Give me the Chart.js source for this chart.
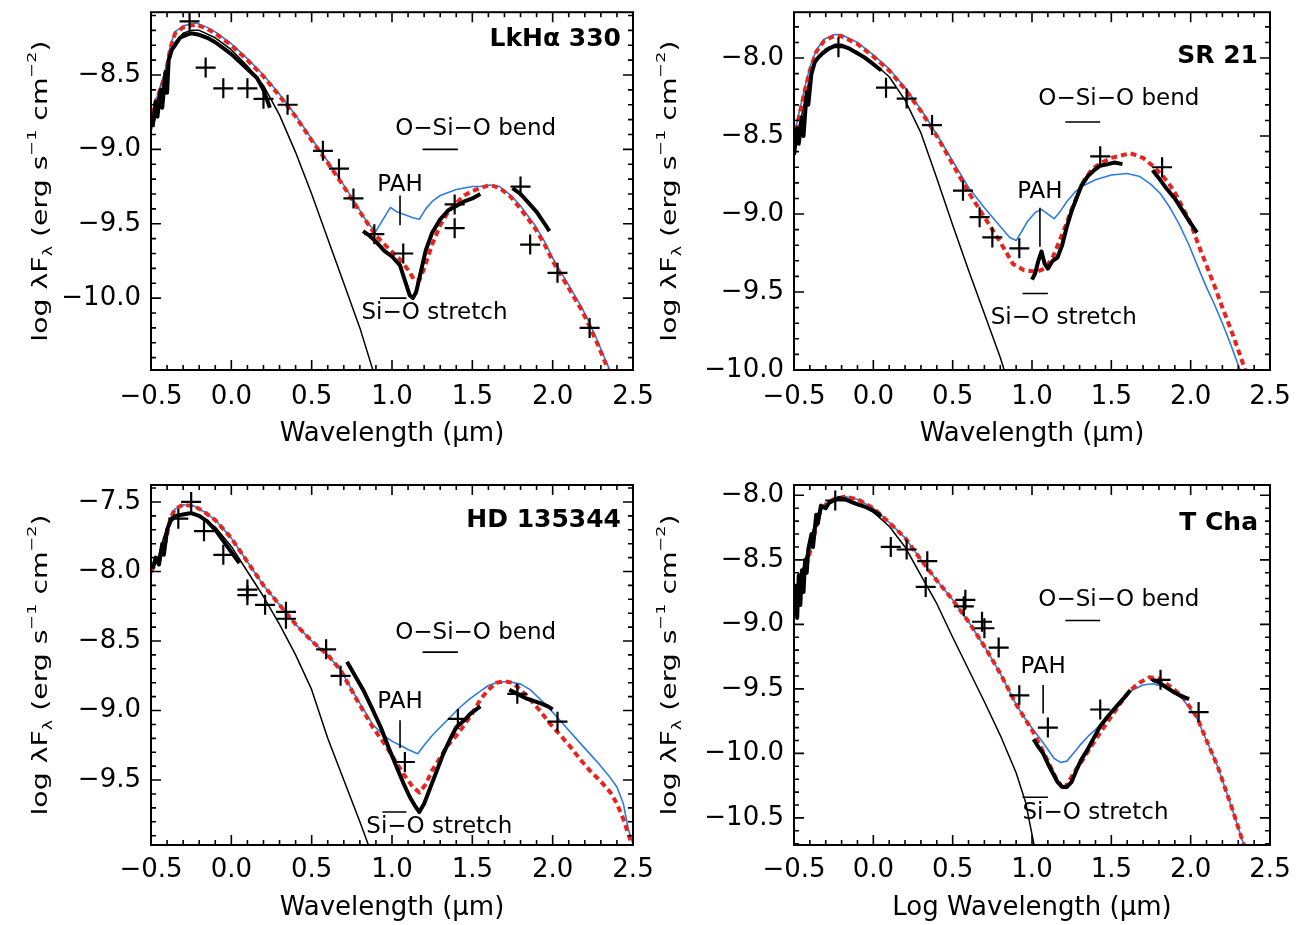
<!DOCTYPE html>
<html>
<head>
<meta charset="utf-8">
<script src="https://cdn.jsdelivr.net/npm/chart.js@4.4.1/dist/chart.umd.min.js"></script>
<style>
  body { margin: 0; background: #fff; width: 1300px; height: 925px; position: relative; overflow: hidden; }
  canvas { position: absolute; }
</style>
</head>
<body>
<canvas id="lkha" width="700" height="462" style="left:0;top:0"></canvas>
<canvas id="sr21" width="650" height="462" style="left:650px;top:0"></canvas>
<canvas id="hd" width="700" height="463" style="left:0;top:462px"></canvas>
<canvas id="tcha" width="650" height="463" style="left:650px;top:462px"></canvas>
<script>
// shared x axis (log wavelength)
const xTickValues = [-0.5, 0, 0.5, 1, 1.5, 2, 2.5];

// ---- LkHa 330 ----
const lkhaYTicks = [-8.5, -9, -9.5, -10];
const lkhaStar = [[-0.5,-8.88],[-0.45,-8.62],[-0.4,-8.42],[-0.35,-8.28],[-0.3,-8.22],[-0.25,-8.2],[-0.2,-8.2],[-0.1,-8.25],[0,-8.33],[0.1,-8.44],[0.2,-8.57],[0.3,-8.77],[0.4,-9.02],[0.5,-9.3],[0.6,-9.6],[0.7,-9.9],[0.8,-10.2],[0.9,-10.55]];
const lkhaModelBlue = [[-0.5,-8.78],[-0.45,-8.6],[-0.41,-8.48],[-0.38,-8.3],[-0.35,-8.21],[-0.3,-8.17],[-0.22,-8.15],[-0.15,-8.18],[-0.1,-8.21],[0,-8.29],[0.1,-8.39],[0.2,-8.5],[0.3,-8.63],[0.4,-8.77],[0.5,-8.93],[0.6,-9.08],[0.7,-9.24],[0.8,-9.41],[0.85,-9.5],[0.9,-9.55],[0.95,-9.46],[0.99,-9.39],[1.03,-9.42],[1.08,-9.44],[1.13,-9.46],[1.17,-9.47],[1.21,-9.4],[1.25,-9.35],[1.3,-9.31],[1.35,-9.29],[1.4,-9.27],[1.45,-9.26],[1.5,-9.25],[1.55,-9.25],[1.61,-9.24],[1.67,-9.25],[1.74,-9.31],[1.8,-9.38],[1.89,-9.51],[1.95,-9.62],[2,-9.73],[2.06,-9.84],[2.12,-9.95],[2.18,-10.06],[2.23,-10.17],[2.28,-10.29],[2.33,-10.42],[2.37,-10.52]];
const lkhaModelRed = [[-0.5,-8.76],[-0.45,-8.62],[-0.41,-8.5],[-0.38,-8.32],[-0.35,-8.22],[-0.3,-8.18],[-0.22,-8.16],[-0.15,-8.19],[-0.1,-8.22],[0,-8.3],[0.1,-8.4],[0.2,-8.51],[0.3,-8.64],[0.4,-8.78],[0.5,-8.94],[0.6,-9.09],[0.7,-9.25],[0.8,-9.42],[0.9,-9.58],[1,-9.69],[1.05,-9.74],[1.1,-9.81],[1.14,-9.88],[1.17,-9.88],[1.2,-9.8],[1.25,-9.64],[1.3,-9.51],[1.35,-9.42],[1.4,-9.36],[1.45,-9.31],[1.5,-9.28],[1.55,-9.26],[1.61,-9.24],[1.67,-9.26],[1.74,-9.32],[1.8,-9.4],[1.89,-9.53],[1.95,-9.64],[2,-9.75],[2.06,-9.86],[2.12,-9.97],[2.18,-10.08],[2.23,-10.19],[2.28,-10.31],[2.33,-10.44],[2.36,-10.52]];
const lkhaOptical = [[-0.49,-8.85],[-0.47,-8.68],[-0.46,-8.78],[-0.44,-8.6],[-0.43,-8.72],[-0.41,-8.48],[-0.4,-8.62],[-0.39,-8.4],[-0.37,-8.33],[-0.35,-8.3],[-0.32,-8.25],[-0.28,-8.23],[-0.25,-8.22],[-0.2,-8.23],[-0.15,-8.25],[-0.1,-8.28],[-0.05,-8.32],[0,-8.36],[0.05,-8.41],[0.1,-8.46],[0.16,-8.52],[0.2,-8.6],[0.24,-8.72]];
const lkhaIrsShort = [[0.82,-9.55],[0.86,-9.58],[0.9,-9.62],[0.95,-9.68],[1,-9.72],[1.05,-9.78],[1.08,-9.88],[1.11,-9.98],[1.13,-10],[1.15,-9.96],[1.18,-9.82],[1.21,-9.68],[1.25,-9.56],[1.3,-9.47],[1.35,-9.41],[1.4,-9.38],[1.45,-9.35],[1.5,-9.33],[1.55,-9.3]];
const lkhaIrsLong = [[1.75,-9.26],[1.8,-9.3],[1.85,-9.36],[1.9,-9.42],[1.95,-9.5],[1.98,-9.55]];
const lkhaPhot = [[-0.26,-8.14],[-0.16,-8.45],[-0.05,-8.59],[0.1,-8.59],[0.2,-8.66],[0.35,-8.7],[0.57,-9.01],[0.67,-9.13],[0.76,-9.33],[0.89,-9.57],[1.07,-9.7],[1.39,-9.37],[1.39,-9.53],[1.8,-9.25],[1.86,-9.64],[2.03,-9.83],[2.23,-10.2]];

// ---- SR 21 ----
const sr21YTicks = [-8, -8.5, -9, -9.5, -10];
const sr21Star = [[-0.5,-8.56],[-0.45,-8.36],[-0.4,-8.12],[-0.35,-7.99],[-0.3,-7.94],[-0.25,-7.92],[-0.2,-7.92],[-0.1,-7.96],[0,-8.03],[0.1,-8.12],[0.2,-8.27],[0.3,-8.48],[0.4,-8.77],[0.5,-9.07],[0.6,-9.36],[0.7,-9.64],[0.8,-9.92],[0.85,-10.08]];
const sr21ModelBlue = [[-0.5,-8.5],[-0.47,-8.36],[-0.43,-8.18],[-0.4,-8.06],[-0.36,-7.95],[-0.31,-7.88],[-0.25,-7.85],[-0.2,-7.85],[-0.1,-7.9],[0,-7.98],[0.1,-8.07],[0.2,-8.19],[0.3,-8.33],[0.4,-8.49],[0.5,-8.66],[0.6,-8.83],[0.7,-8.96],[0.8,-9.08],[0.86,-9.15],[0.9,-9.17],[0.93,-9.12],[0.97,-9.05],[1.02,-8.99],[1.06,-8.97],[1.1,-9],[1.14,-9.03],[1.18,-8.98],[1.22,-8.92],[1.27,-8.86],[1.32,-8.82],[1.4,-8.78],[1.5,-8.75],[1.6,-8.74],[1.68,-8.76],[1.75,-8.81],[1.81,-8.87],[1.87,-8.96],[1.93,-9.07],[1.99,-9.2],[2.05,-9.35],[2.1,-9.47],[2.15,-9.58],[2.2,-9.7],[2.25,-9.83],[2.3,-9.97],[2.32,-10.02]];
const sr21ModelRed = [[-0.5,-8.53],[-0.47,-8.38],[-0.43,-8.2],[-0.4,-8.08],[-0.36,-7.96],[-0.31,-7.89],[-0.25,-7.86],[-0.2,-7.86],[-0.1,-7.91],[0,-7.99],[0.1,-8.08],[0.2,-8.2],[0.3,-8.34],[0.4,-8.5],[0.5,-8.68],[0.6,-8.86],[0.7,-9.02],[0.8,-9.18],[0.88,-9.32],[0.95,-9.36],[1.03,-9.37],[1.08,-9.35],[1.13,-9.28],[1.17,-9.18],[1.21,-9.08],[1.25,-8.97],[1.29,-8.87],[1.33,-8.78],[1.38,-8.71],[1.44,-8.67],[1.5,-8.64],[1.62,-8.61],[1.7,-8.64],[1.76,-8.69],[1.81,-8.74],[1.86,-8.8],[1.91,-8.88],[1.96,-8.98],[2,-9.06],[2.05,-9.2],[2.1,-9.33],[2.15,-9.46],[2.2,-9.6],[2.25,-9.73],[2.31,-9.9],[2.35,-10.02]];
const sr21Optical = [[-0.5,-8.62],[-0.48,-8.45],[-0.47,-8.55],[-0.45,-8.38],[-0.44,-8.5],[-0.42,-8.22],[-0.41,-8.3],[-0.39,-8.1],[-0.37,-8.03],[-0.35,-8],[-0.32,-7.97],[-0.28,-7.94],[-0.24,-7.92],[-0.2,-7.92],[-0.15,-7.94],[-0.1,-7.97],[-0.05,-8],[0,-8.04],[0.05,-8.08]];
const sr21IrsShort = [[1,-9.42],[1.02,-9.38],[1.04,-9.3],[1.06,-9.24],[1.08,-9.32],[1.1,-9.35],[1.13,-9.3],[1.16,-9.28],[1.19,-9.2],[1.22,-9.08],[1.25,-8.98],[1.28,-8.9],[1.31,-8.82],[1.35,-8.76],[1.39,-8.72],[1.43,-8.69],[1.48,-8.68],[1.52,-8.67],[1.57,-8.68]];
const sr21IrsLong = [[1.76,-8.72],[1.8,-8.77],[1.85,-8.84],[1.9,-8.9],[1.95,-8.98],[2,-9.06],[2.04,-9.12]];
const sr21Phot = [[-0.22,-7.93],[0.08,-8.19],[0.21,-8.26],[0.37,-8.43],[0.565,-8.85],[0.67,-9.02],[0.75,-9.15],[0.92,-9.22],[1.43,-8.63],[1.82,-8.7]];

// ---- HD 135344 ----
const hdYTicks = [-7.5, -8, -8.5, -9, -9.5];
const hdStar = [[-0.5,-8.02],[-0.45,-7.88],[-0.42,-7.75],[-0.38,-7.63],[-0.33,-7.59],[-0.28,-7.58],[-0.2,-7.6],[-0.1,-7.68],[0,-7.82],[0.1,-8],[0.2,-8.18],[0.3,-8.38],[0.4,-8.6],[0.5,-8.85],[0.6,-9.2],[0.7,-9.5],[0.8,-9.8],[0.87,-10.02]];
const hdModelBlue = [[-0.5,-8],[-0.45,-7.9],[-0.41,-7.79],[-0.38,-7.62],[-0.35,-7.55],[-0.3,-7.52],[-0.23,-7.53],[-0.17,-7.57],[-0.1,-7.63],[0,-7.76],[0.1,-7.93],[0.2,-8.1],[0.3,-8.24],[0.4,-8.38],[0.5,-8.5],[0.6,-8.6],[0.68,-8.71],[0.78,-8.91],[0.88,-9.1],[0.95,-9.18],[1,-9.22],[1.05,-9.25],[1.1,-9.28],[1.16,-9.31],[1.2,-9.25],[1.25,-9.18],[1.3,-9.12],[1.36,-9.05],[1.42,-8.98],[1.48,-8.92],[1.55,-8.86],[1.6,-8.82],[1.65,-8.8],[1.72,-8.79],[1.8,-8.81],[1.86,-8.85],[1.96,-8.96],[2.06,-9.09],[2.16,-9.22],[2.27,-9.36],[2.35,-9.47],[2.4,-9.55],[2.44,-9.67],[2.47,-9.85],[2.5,-9.96]];
const hdModelRed = [[-0.5,-8],[-0.45,-7.9],[-0.41,-7.79],[-0.38,-7.62],[-0.35,-7.55],[-0.3,-7.52],[-0.23,-7.53],[-0.17,-7.57],[-0.1,-7.63],[0,-7.76],[0.1,-7.93],[0.2,-8.1],[0.3,-8.24],[0.4,-8.38],[0.5,-8.5],[0.6,-8.6],[0.68,-8.71],[0.78,-8.92],[0.88,-9.12],[0.96,-9.25],[1.03,-9.38],[1.08,-9.47],[1.13,-9.55],[1.17,-9.59],[1.21,-9.53],[1.25,-9.43],[1.3,-9.34],[1.34,-9.26],[1.4,-9.18],[1.44,-9.12],[1.5,-9.02],[1.55,-8.92],[1.6,-8.85],[1.65,-8.8],[1.7,-8.79],[1.75,-8.8],[1.8,-8.85],[1.86,-8.92],[1.92,-9],[1.98,-9.09],[2.05,-9.18],[2.11,-9.26],[2.17,-9.35],[2.23,-9.43],[2.3,-9.51],[2.36,-9.59],[2.4,-9.67],[2.44,-9.78],[2.48,-9.92],[2.5,-9.98]];
const hdOptical = [[-0.49,-7.98],[-0.47,-7.9],[-0.45,-7.95],[-0.43,-7.8],[-0.42,-7.88],[-0.4,-7.7],[-0.38,-7.64],[-0.35,-7.6],[-0.3,-7.59],[-0.25,-7.58],[-0.2,-7.6],[-0.15,-7.64],[-0.1,-7.7],[-0.05,-7.78],[0,-7.86],[0.05,-7.94]];
const hdIrsShort = [[0.72,-8.65],[0.77,-8.75],[0.82,-8.85],[0.87,-8.97],[0.93,-9.12],[0.98,-9.27],[1.03,-9.41],[1.07,-9.52],[1.11,-9.62],[1.14,-9.68],[1.17,-9.73],[1.2,-9.67],[1.24,-9.55],[1.28,-9.43],[1.32,-9.31],[1.36,-9.21],[1.4,-9.12],[1.45,-9.07],[1.49,-9.02],[1.55,-8.97]];
const hdIrsLong = [[1.73,-8.85],[1.78,-8.88],[1.83,-8.91],[1.88,-8.93],[1.93,-8.95],[1.97,-8.97],[2,-8.99]];
const hdPhot = [[-0.25,-7.5],[-0.33,-7.62],[-0.17,-7.71],[-0.05,-7.88],[0.1,-8.13],[0.1,-8.17],[0.21,-8.24],[0.34,-8.29],[0.34,-8.34],[0.59,-8.56],[0.68,-8.75],[1.08,-9.37],[1.41,-9.06],[1.78,-8.88],[2.03,-9.08]];

// ---- T Cha ----
const tchaYTicks = [-8, -8.5, -9, -9.5, -10, -10.5];
const tchaStar = [[-0.5,-8.86],[-0.45,-8.6],[-0.4,-8.36],[-0.35,-8.14],[-0.3,-8.07],[-0.25,-8.04],[-0.2,-8.03],[-0.1,-8.06],[0,-8.13],[0.1,-8.24],[0.2,-8.4],[0.3,-8.62],[0.4,-8.84],[0.5,-9.1],[0.6,-9.35],[0.7,-9.6],[0.8,-9.86],[0.9,-10.15],[0.96,-10.38],[1.01,-10.69],[1.03,-10.8]];
const tchaModelBlue = [[-0.5,-8.84],[-0.44,-8.61],[-0.39,-8.4],[-0.34,-8.14],[-0.3,-8.07],[-0.25,-8.03],[-0.18,-8.01],[-0.1,-8.03],[0,-8.1],[0.1,-8.21],[0.2,-8.33],[0.3,-8.5],[0.4,-8.66],[0.5,-8.81],[0.6,-8.98],[0.7,-9.17],[0.8,-9.38],[0.9,-9.62],[0.95,-9.72],[1.01,-9.82],[1.06,-9.9],[1.1,-9.97],[1.14,-10.04],[1.18,-10.07],[1.22,-10.06],[1.26,-10],[1.3,-9.94],[1.36,-9.86],[1.43,-9.78],[1.5,-9.68],[1.57,-9.58],[1.63,-9.51],[1.7,-9.47],[1.76,-9.46],[1.82,-9.48],[1.88,-9.52],[1.95,-9.58],[2,-9.66],[2.04,-9.73],[2.1,-9.9],[2.17,-10.1],[2.22,-10.28],[2.27,-10.46],[2.33,-10.69],[2.35,-10.75]];
const tchaModelRed = [[-0.5,-8.84],[-0.44,-8.61],[-0.39,-8.4],[-0.34,-8.14],[-0.3,-8.07],[-0.25,-8.03],[-0.18,-8.01],[-0.1,-8.03],[0,-8.1],[0.1,-8.21],[0.2,-8.33],[0.3,-8.5],[0.4,-8.66],[0.5,-8.81],[0.6,-8.98],[0.7,-9.17],[0.8,-9.38],[0.9,-9.62],[0.95,-9.72],[1.01,-9.84],[1.06,-9.96],[1.1,-10.06],[1.15,-10.19],[1.2,-10.28],[1.24,-10.2],[1.28,-10.12],[1.32,-10.05],[1.37,-9.95],[1.43,-9.84],[1.48,-9.75],[1.53,-9.66],[1.58,-9.57],[1.62,-9.51],[1.68,-9.45],[1.74,-9.41],[1.8,-9.42],[1.87,-9.48],[1.95,-9.56],[2,-9.65],[2.04,-9.72],[2.1,-9.9],[2.17,-10.1],[2.22,-10.28],[2.27,-10.46],[2.33,-10.69],[2.35,-10.75]];
const tchaOptical = [[-0.5,-8.88],[-0.49,-8.7],[-0.48,-8.95],[-0.47,-8.62],[-0.46,-8.85],[-0.45,-8.58],[-0.44,-8.75],[-0.43,-8.5],[-0.42,-8.6],[-0.41,-8.42],[-0.39,-8.3],[-0.38,-8.4],[-0.36,-8.15],[-0.35,-8.22],[-0.33,-8.08],[-0.3,-8.1],[-0.28,-8.06],[-0.25,-8.04],[-0.22,-8.02],[-0.18,-8.03],[-0.14,-8.05],[-0.1,-8.07],[-0.05,-8.09],[0,-8.12],[0.05,-8.16]];
const tchaIrsShort = [[1.01,-9.89],[1.04,-9.95],[1.07,-10],[1.1,-10.08],[1.13,-10.15],[1.16,-10.22],[1.19,-10.26],[1.22,-10.26],[1.25,-10.22],[1.28,-10.13],[1.31,-10.05],[1.35,-9.97],[1.39,-9.88],[1.43,-9.79],[1.48,-9.71],[1.53,-9.64],[1.58,-9.57],[1.62,-9.51]];
const tchaIrsLong = [[1.76,-9.43],[1.8,-9.45],[1.85,-9.49],[1.9,-9.53],[1.95,-9.56],[1.99,-9.58]];
const tchaPhot = [[-0.24,-8.04],[0.11,-8.4],[0.21,-8.42],[0.34,-8.51],[0.33,-8.71],[0.58,-8.81],[0.57,-8.86],[0.685,-8.98],[0.7,-9.03],[0.79,-9.18],[0.92,-9.55],[1.1,-9.8],[1.43,-9.66],[1.81,-9.43],[2.05,-9.68]];

const FONT = 'DejaVu Sans';
const RED = 'rgb(232,36,30)';
const BLUE = 'rgb(46,124,222)';

const fmt = v => (v < 0 ? '\u2212' : '') + Math.abs(v).toFixed(1);

function line(data, color, width, order) {
  return { data: data, showLine: true, borderColor: color, borderWidth: width, pointRadius: 0,
           fill: false, tension: 0, order: order, borderJoinStyle: 'round' };
}

function drawYTitle(ctx, cx, cy) {
  const big = 21, small = 13;
  const parts = [['log \u03bbF', 0, big], ['\u03bb', 5, small], [' (erg s', 0, big], ['\u22121', -11, small],
                 [' cm', 0, big], ['\u22122', -11, small], [')', 0, big]];
  ctx.save();
  ctx.translate(cx, cy);
  ctx.rotate(-Math.PI / 2);
  ctx.scale(1.35, 1);
  let total = 0;
  parts.forEach(p => { ctx.font = p[2] + 'px "' + FONT + '"'; total += ctx.measureText(p[0]).width; });
  let x = -total / 2;
  ctx.fillStyle = '#000';
  ctx.textBaseline = 'alphabetic';
  parts.forEach(p => {
    ctx.font = p[2] + 'px "' + FONT + '"';
    ctx.fillText(p[0], x, p[1]);
    x += ctx.measureText(p[0]).width;
  });
  ctx.restore();
}

// frame, inward ticks, y title, star name and feature labels
const decoPlugin = {
  id: 'deco',
  afterDatasetsDraw(chart, args, o) {
    const { ctx, chartArea: a, scales: { x, y } } = chart;
    ctx.save();
    ctx.strokeStyle = '#000';
    ctx.lineWidth = 1.6;
    ctx.beginPath();
    for (let i = -5; i <= 25; i++) {
      const px = x.getPixelForValue(i / 10);
      const len = i % 5 === 0 ? 10 : 5;
      ctx.moveTo(px, a.bottom); ctx.lineTo(px, a.bottom - len);
      ctx.moveTo(px, a.top); ctx.lineTo(px, a.top + len);
    }
    for (let i = Math.ceil(y.min * 10); i <= Math.floor(y.max * 10); i++) {
      const py = y.getPixelForValue(i / 10);
      const len = i % 5 === 0 ? 10 : 5;
      ctx.moveTo(a.left, py); ctx.lineTo(a.left + len, py);
      ctx.moveTo(a.right, py); ctx.lineTo(a.right - len, py);
    }
    ctx.stroke();
    ctx.lineWidth = 2;
    ctx.strokeRect(a.left, a.top, a.right - a.left, a.bottom - a.top);

    // feature marks
    const f = o.features;
    ctx.lineWidth = 1.6;
    ctx.beginPath();
    ctx.moveTo(x.getPixelForValue(f.pah.x), y.getPixelForValue(f.pah.y1));
    ctx.lineTo(x.getPixelForValue(f.pah.x), y.getPixelForValue(f.pah.y2));
    ctx.moveTo(x.getPixelForValue(f.bend.x1), y.getPixelForValue(f.bend.y));
    ctx.lineTo(x.getPixelForValue(f.bend.x2), y.getPixelForValue(f.bend.y));
    ctx.moveTo(x.getPixelForValue(f.stretch.x1), y.getPixelForValue(f.stretch.y));
    ctx.lineTo(x.getPixelForValue(f.stretch.x2), y.getPixelForValue(f.stretch.y));
    ctx.stroke();

    ctx.fillStyle = '#000';
    ctx.font = '23px "' + FONT + '"';
    ctx.textBaseline = 'middle';
    ctx.textAlign = 'center';
    ctx.fillText('PAH', x.getPixelForValue(f.pah.x), y.getPixelForValue(f.pah.textY));
    ctx.textAlign = 'left';
    ctx.fillText('O\u2212Si\u2212O bend', x.getPixelForValue(f.bend.textX), y.getPixelForValue(f.bend.textY));
    ctx.fillText('Si\u2212O stretch', x.getPixelForValue(f.stretch.textX), y.getPixelForValue(f.stretch.textY));

    ctx.font = 'bold 25px "' + FONT + '"';
    ctx.textAlign = 'right';
    ctx.textBaseline = 'alphabetic';
    ctx.fillText(o.name, a.right - 12, a.top + o.nameDy);
    ctx.restore();

    drawYTitle(ctx, o.yTitleX, (a.top + a.bottom) / 2);
  }
};

function makeChart(id, p) {
  const canvas = document.getElementById(id);
  const W = canvas.width, H = canvas.height;
  return new Chart(canvas, {
    type: 'scatter',
    data: {
      datasets: [
        line(p.star, '#000', 1.5, 6),
        line(p.blue, BLUE, 1.6, 5),
        Object.assign(line(p.red, RED, 4, 4), { borderDash: [6, 4] }),
        ...p.obs.map(s => line(s, '#000', 4, 2)),
        { data: p.phot, showLine: false, pointStyle: 'cross', pointRadius: 10, pointBorderWidth: 2.2,
          borderColor: '#000', pointBorderColor: '#000', order: 1 }
      ]
    },
    options: {
      responsive: false,
      animation: false,
      events: [],
      layout: { padding: { left: 0, top: p.top, right: W - p.right, bottom: H - p.axisBottom } },
      plugins: {
        legend: { display: false },
        tooltip: { enabled: false },
        deco: { features: p.features, name: p.name, nameDy: p.nameDy, yTitleX: p.yTitleX }
      },
      scales: {
        x: {
          type: 'linear', min: -0.5, max: 2.5,
          grid: { display: false, drawTicks: false },
          border: { display: false },
          afterBuildTicks: ax => { ax.ticks = xTickValues.map(v => ({ value: v })); },
          afterFit: ax => { ax.height = p.axisBottom - p.bottom; ax.paddingLeft = 0; ax.paddingRight = 0; },
          ticks: { callback: fmt, font: { family: FONT, size: 26 }, color: '#000', padding: p.xPad,
                   autoSkip: false, maxRotation: 0 },
          title: { display: true, text: p.xTitle, font: { family: FONT, size: 26 }, color: '#000', padding: 0 }
        },
        y: {
          type: 'linear', min: p.yMin, max: p.yMax,
          grid: { display: false, drawTicks: false },
          border: { display: false },
          afterBuildTicks: ax => { ax.ticks = p.yTicks.map(v => ({ value: v })); },
          afterFit: ax => { ax.width = p.left; ax.paddingTop = 0; ax.paddingBottom = 0; },
          ticks: { callback: fmt, font: { family: FONT, size: 26 }, color: '#000', padding: 10, autoSkip: false }
        }
      }
    },
    plugins: [decoPlugin]
  });
}

makeChart('lkha', {
  star: lkhaStar, blue: lkhaModelBlue, red: lkhaModelRed, obs: [lkhaOptical, lkhaIrsShort, lkhaIrsLong], phot: lkhaPhot,
  yTicks: lkhaYTicks, yMin: -10.483, yMax: -8.078,
  left: 151, right: 633, top: 11, bottom: 370, axisBottom: 450, xPad: 12,
  xTitle: 'Wavelength (\u03bcm)', name: 'LkH\u03b1 330', nameDy: 34, yTitleX: 47,
  features: { pah: { x: 1.05, textY: -9.24, y1: -9.31, y2: -9.51 },
              bend: { textX: 1.02, textY: -8.86, x1: 1.19, x2: 1.41, y: -9.0 },
              stretch: { textX: 0.81, textY: -10.1, x1: 0.925, x2: 1.09, y: -10.0 } }
});

makeChart('sr21', {
  star: sr21Star, blue: sr21ModelBlue, red: sr21ModelRed, obs: [sr21Optical, sr21IrsShort, sr21IrsLong], phot: sr21Phot,
  yTicks: sr21YTicks, yMin: -10.0, yMax: -7.706,
  left: 144, right: 620, top: 11, bottom: 370, axisBottom: 450, xPad: 12,
  xTitle: 'Wavelength (\u03bcm)', name: 'SR 21', nameDy: 51, yTitleX: 26,
  features: { pah: { x: 1.05, textY: -8.86, y1: -8.96, y2: -9.21 },
              bend: { textX: 1.04, textY: -8.26, x1: 1.21, x2: 1.43, y: -8.41 },
              stretch: { textX: 0.74, textY: -9.67, x1: 0.94, x2: 1.1, y: -9.51 } }
});

makeChart('hd', {
  star: hdStar, blue: hdModelBlue, red: hdModelRed, obs: [hdOptical, hdIrsShort, hdIrsLong], phot: hdPhot,
  yTicks: hdYTicks, yMin: -9.967, yMax: -7.378,
  left: 151, right: 633, top: 23, bottom: 383, axisBottom: 462, xPad: 10,
  xTitle: 'Wavelength (\u03bcm)', name: 'HD 135344', nameDy: 42, yTitleX: 47,
  features: { pah: { x: 1.05, textY: -8.94, y1: -9.07, y2: -9.27 },
              bend: { textX: 1.02, textY: -8.44, x1: 1.19, x2: 1.41, y: -8.58 },
              stretch: { textX: 0.84, textY: -9.84, x1: 0.94, x2: 1.09, y: -9.73 } }
});

makeChart('tcha', {
  star: tchaStar, blue: tchaModelBlue, red: tchaModelRed, obs: [tchaOptical, tchaIrsShort, tchaIrsLong], phot: tchaPhot,
  yTicks: tchaYTicks, yMin: -10.71, yMax: -7.92,
  left: 144, right: 620, top: 23, bottom: 383, axisBottom: 462, xPad: 10,
  xTitle: 'Log Wavelength (\u03bcm)', name: 'T Cha', nameDy: 45, yTitleX: 26,
  features: { pah: { x: 1.07, textY: -9.33, y1: -9.47, y2: -9.69 },
              bend: { textX: 1.04, textY: -8.81, x1: 1.21, x2: 1.43, y: -8.97 },
              stretch: { textX: 0.94, textY: -10.46, x1: 0.94, x2: 1.1, y: -10.34 } }
});
</script>
</body>
</html>
